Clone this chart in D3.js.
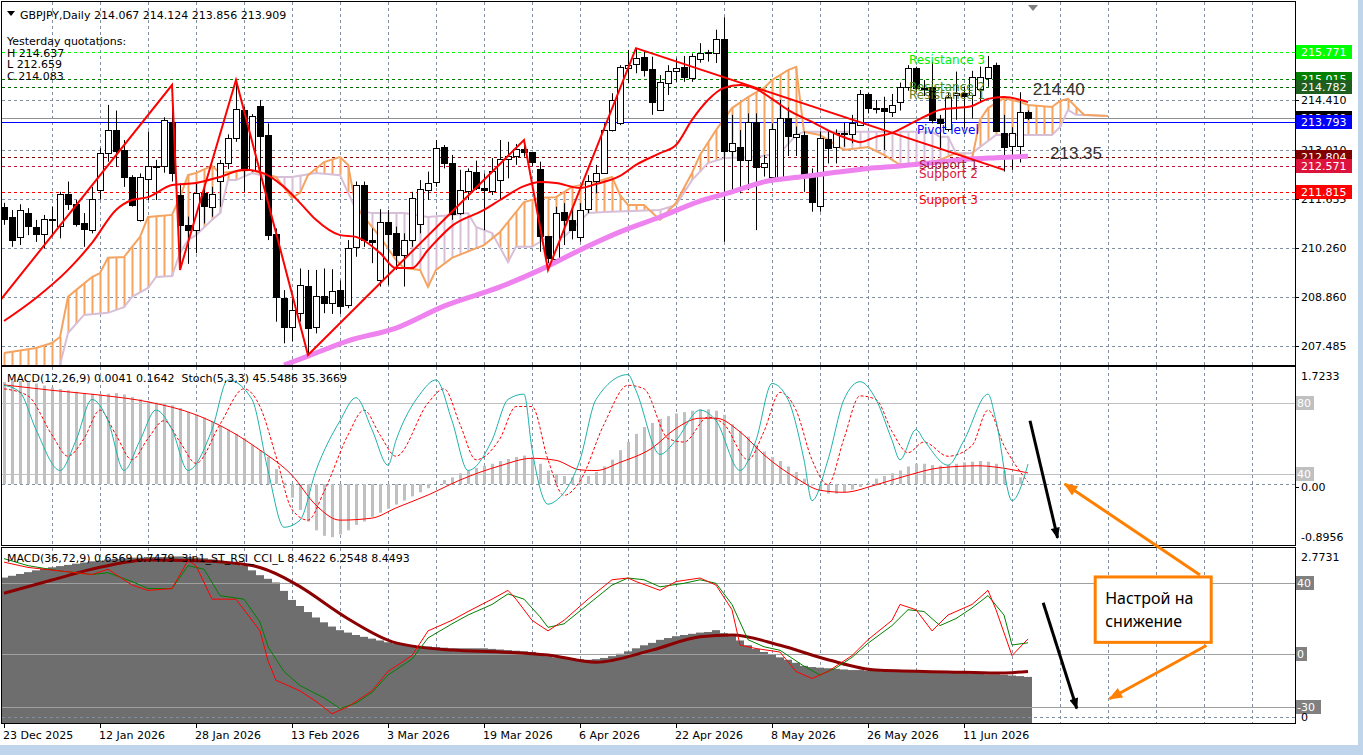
<!DOCTYPE html>
<html>
<head>
<meta charset="utf-8">
<script src="https://cdn.jsdelivr.net/npm/d3@7"></script>
<style>
  body { margin: 0; background: #ffffff; overflow: hidden; }
  svg text { font-family: "DejaVu Sans", Verdana, sans-serif; font-size: 11px; }
</style>
</head>
<body>
<div id="chart"></div>
<script>
// ============
// Values
// ============

var dateLabels = ["23 Dec 2025", "12 Jan 2026", "28 Jan 2026", "13 Feb 2026", "3 Mar 2026", "19 Mar 2026",
  "6 Apr 2026", "22 Apr 2026", "8 May 2026", "26 May 2026", "11 Jun 2026"];
var dateBars = [0, 12, 24, 36, 48, 60, 72, 84, 96, 108, 120];

var openPrices = [
  211.41, 211.13, 210.57, 211.23, 210.85, 210.64, 211.06, 210.87, 211.77, 211.49,
  210.96, 210.75, 211.88, 212.92, 213.57, 213.01, 212.24, 211.04, 212.21, 212.54,
  212.56, 213.81, 211.74, 210.90, 210.77, 211.79, 211.39, 212.12, 212.63, 213.34,
  214.14, 212.45, 214.25, 213.43, 210.64, 208.85, 208.03, 208.42, 209.18, 208.01,
  208.89, 208.71, 209.06, 208.64, 210.28, 212.02, 210.47, 209.35, 210.99, 210.68,
  210.05, 210.47, 210.92, 211.90, 212.09, 213.09, 212.65, 211.24, 211.86, 212.39,
  211.93, 211.86, 212.16, 212.76, 212.82, 213.03, 212.94, 212.47, 210.59, 209.94,
  211.25, 211.04, 210.57, 211.34, 212.14, 212.37, 213.57, 213.76, 215.31, 215.43,
  215.64, 215.29, 214.14, 214.89, 215.22, 215.34, 215.03, 215.57, 215.77, 215.74,
  216.14, 212.99, 213.10, 212.73, 213.81, 212.54, 212.24, 212.24, 213.90, 213.38,
  213.43, 212.26, 211.41, 213.31, 213.09, 213.48, 213.48, 213.71, 214.58, 214.18,
  214.18, 214.09, 214.37, 214.79, 215.32, 214.73, 214.78, 213.88, 213.62, 214.56,
  214.62, 214.56, 214.72, 215.06, 215.40, 213.50, 213.10, 213.12, 214.067];
var highPrices = [
  211.52, 211.32, 211.48, 211.37, 211.04, 211.18, 211.41, 211.83, 212.12, 211.60,
  211.23, 211.97, 213.06, 214.28, 214.12, 213.29, 212.30, 212.35, 213.53, 212.73,
  213.93, 214.84, 212.07, 211.13, 212.07, 211.97, 211.97, 212.73, 213.45, 214.98,
  214.23, 214.02, 214.42, 213.76, 210.80, 209.06, 208.83, 209.67, 209.63, 209.63,
  209.67, 209.65, 209.33, 210.47, 212.12, 212.12, 210.80, 211.34, 211.32, 210.85,
  210.66, 211.83, 212.16, 212.40, 213.29, 213.15, 212.87, 212.45, 212.49, 212.71,
  212.35, 212.78, 213.29, 213.24, 213.18, 213.29, 212.96, 212.68, 210.59, 211.41,
  211.51, 211.32, 211.51, 212.30, 212.59, 213.76, 214.61, 215.40, 215.83, 215.88,
  215.78, 215.64, 215.12, 215.40, 215.59, 215.66, 215.73, 216.02, 215.83, 216.40,
  216.75, 214.00, 213.57, 214.04, 214.04, 212.87, 213.76, 214.42, 214.21, 213.67,
  213.53, 212.49, 213.53, 213.53, 213.59, 213.78, 214.00, 214.70, 214.62, 214.42,
  214.51, 214.59, 214.91, 215.40, 215.36, 214.98, 215.50, 214.00, 214.62, 215.22,
  214.79, 215.24, 215.36, 215.66, 215.47, 214.00, 213.65, 214.637, 214.124];
var lowPrices = [
  210.90, 210.28, 210.33, 210.61, 210.42, 210.24, 210.57, 210.52, 211.32, 210.85,
  210.28, 210.66, 211.62, 212.68, 212.54, 211.97, 211.41, 210.99, 211.60, 211.60,
  212.37, 212.12, 209.63, 209.80, 210.10, 210.94, 211.13, 211.41, 212.47, 213.24,
  211.83, 212.40, 211.60, 210.47, 208.17, 207.56, 207.61, 208.17, 207.23, 207.84,
  208.41, 208.39, 208.39, 208.55, 210.00, 210.28, 209.82, 209.16, 209.20, 209.63,
  209.16, 210.28, 210.66, 211.60, 211.97, 212.49, 211.04, 211.18, 211.60, 211.88,
  210.75, 211.74, 211.60, 212.21, 212.59, 212.82, 212.56, 210.14, 209.63, 209.83,
  210.33, 210.49, 210.42, 211.23, 211.79, 212.35, 213.53, 213.71, 214.89, 215.17,
  215.08, 214.00, 214.12, 214.56, 214.93, 214.93, 214.93, 215.47, 215.50, 215.46,
  210.42, 211.83, 211.79, 211.88, 210.75, 212.26, 212.16, 212.16, 212.84, 212.84,
  211.83, 211.27, 211.27, 212.63, 212.63, 213.10, 213.20, 213.69, 214.04, 214.04,
  213.01, 213.94, 214.12, 214.68, 214.65, 214.53, 213.76, 213.01, 213.53, 213.86,
  213.62, 213.90, 214.37, 214.79, 213.53, 212.40, 212.45, 212.659, 213.856];
var closePrices = [
  211.08, 210.47, 211.32, 210.85, 210.66, 211.06, 211.02, 211.77, 211.49, 210.92,
  210.80, 211.62, 212.92, 213.57, 212.99, 212.24, 211.44, 212.26, 212.57, 212.56,
  213.86, 212.38, 210.90, 210.77, 211.81, 211.41, 211.77, 212.63, 213.34, 214.16,
  212.45, 213.97, 213.41, 210.61, 208.86, 208.03, 208.50, 209.20, 208.01, 208.89,
  208.69, 209.04, 208.62, 210.24, 212.02, 210.47, 210.42, 210.99, 210.66, 210.05,
  210.47, 211.65, 211.90, 212.09, 213.06, 212.65, 211.20, 211.88, 212.42, 211.95,
  211.86, 212.42, 212.75, 212.85, 213.03, 212.94, 212.65, 210.59, 209.96, 211.24,
  211.02, 210.75, 211.32, 212.14, 212.37, 213.57, 214.42, 215.34, 215.40, 215.59,
  215.28, 214.37, 214.92, 215.24, 215.31, 215.06, 215.66, 215.73, 215.78, 216.14,
  212.99, 213.22, 212.73, 213.80, 212.54, 212.64, 213.59, 213.90, 213.38, 213.46,
  212.26, 211.55, 213.34, 213.06, 213.48, 213.46, 213.78, 214.58, 214.18, 214.19,
  214.09, 214.28, 214.79, 215.32, 214.76, 214.76, 213.84, 213.78, 214.51, 214.62,
  214.53, 215.08, 215.06, 215.36, 213.55, 213.10, 213.48, 214.083, 213.909];

var priceTicks = [214.410, 213.010, 211.635, 210.260, 208.860, 207.485];

var levelNames = ["Resistance 3", "Resistance 2", "Resistance 1", "Pivot level", "Support 1", "Support 2", "Support 3"];
var levelValues = [215.771, 215.015, 214.782, 213.793, 212.804, 212.571, 211.815];
var bidPrice = 213.909;

// [bar, price] knots of the indicator lines
var redMa = [[0,208.19],[4,208.84],[8,209.63],[11,210.39],[14,211.32],[16,211.60],[18,211.68],[21,212.02],
  [24,212.08],[27,212.25],[30,212.45],[32,212.39],[35,211.97],[37,211.52],[39,211.04],[42,210.61],[44,210.56],
  [47,210.11],[49,209.68],[51,209.68],[53,210.19],[56,210.87],[60,211.32],[62,211.60],[65,211.99],[67,212.11],
  [69,212.08],[72,211.94],[74,212.05],[77,212.28],[79,212.59],[82,212.92],[84,213.15],[86,213.86],[88,214.42],
  [90,214.76],[92,214.84],[94,214.73],[96,214.45],[98,214.14],[101,213.80],[104,213.46],[106,213.29],[107,213.23],
  [109,213.38],[111,213.49],[113,213.71],[115,213.94],[117,214.14],[119,214.19],[121,214.25],[123,214.45],
  [125,214.50],[128,214.36]];

var violetMa = [[35,206.95],[38,207.20],[43,207.63],[49,207.99],[55,208.61],[62,209.15],[67,209.63],[72,210.19],
  [77,210.70],[82,211.12],[87,211.57],[91,211.83],[95,212.11],[100,212.26],[104,212.38],[108,212.49],[112,212.56],
  [116,212.65],[120,212.74],[124,212.79],[128,212.83]];

var zigzag = [[-1,208.62],[21,214.84],[22,209.63],[29,214.98],[38,207.23],[65,213.29],[68,209.63],[79,215.88],[125,212.45]];

var senkouA = [[0,207.29],[4,207.43],[6,207.57],[7,207.74],[8,208.87],[9,209.06],[11,209.43],[12,209.54],[13,209.97],
  [15,209.99],[16,210.28],[17,210.56],[18,211.12],[21,211.18],[22,211.68],[23,212.30],[24,212.36],[26,212.56],
  [27,212.36],[31,212.45],[32,212.36],[34,212.25],[36,211.66],[37,211.80],[38,212.30],[40,212.67],[42,212.81],
  [43,212.59],[44,211.40],[47,210.56],[49,209.91],[50,209.68],[52,209.63],[53,209.15],[54,209.63],[56,209.97],
  [60,210.33],[62,210.70],[65,211.54],[67,211.66],[69,211.68],[71,211.97],[74,212.11],[76,212.25],[77,211.74],
  [78,211.46],[80,211.46],[82,211.04],[84,211.52],[86,212.36],[87,212.87],[89,213.57],[91,214.19],[93,214.50],
  [95,214.76],[96,214.98],[98,215.26],[99,215.35],[100,213.52],[102,213.43],[105,213.01],[108,213.09],[110,212.87],
  [112,212.59],[114,212.59],[117,212.73],[119,212.92],[121,212.76],[122,213.86],[123,214.19],[125,214.47],
  [127,214.36],[128,214.28],[131,214.22],[132,214.39],[133,214.45],[134,214.22],[135,214.00],[138,213.97]];

var senkouB = [[0,206.25],[6,206.39],[7,206.95],[8,207.85],[10,208.36],[13,208.42],[15,208.58],[16,208.87],[18,209.12],
  [19,209.43],[21,209.46],[22,210.11],[23,210.47],[24,210.61],[26,211.04],[27,211.23],[28,212.16],[29,212.16],
  [31,212.36],[33,212.25],[36,212.25],[39,212.36],[42,212.30],[44,211.32],[46,211.23],[50,211.23],[53,211.12],
  [56,211.18],[58,211.23],[59,210.84],[61,210.67],[63,209.85],[64,210.28],[66,210.28],[68,210.56],[70,210.56],
  [73,211.23],[75,211.26],[82,211.32],[84,211.46],[86,212.16],[88,212.64],[90,212.78],[94,212.81],[97,212.92],
  [99,213.43],[100,213.52],[116,213.52],[117,213.38],[118,213.38],[119,212.92],[121,212.92],[124,213.43],
  [131,213.43],[132,213.66],[133,214.14],[134,214.00],[138,213.97]];

// MACD(12,26,9) main as histogram, one value per bar
var macdMain = [
  1.50, 1.52, 1.52, 1.50, 1.48, 1.45, 1.42, 1.40, 1.38, 1.36,
  1.34, 1.33, 1.32, 1.33, 1.34, 1.32, 1.28, 1.25, 1.22, 1.20,
  1.18, 1.16, 1.12, 1.06, 1.02, 0.98, 0.92, 0.86, 0.80, 0.74,
  0.68, 0.58, 0.50, 0.40, 0.22, 0.02, -0.20, -0.38, -0.55, -0.68,
  -0.76, -0.78, -0.74, -0.68, -0.60, -0.55, -0.48, -0.42, -0.36, -0.30,
  -0.24, -0.18, -0.12, -0.06, 0.00, 0.06, 0.10, 0.16, 0.20, 0.24,
  0.27, 0.30, 0.34, 0.37, 0.40, 0.42, 0.40, 0.30, 0.20, 0.15,
  0.12, 0.10, 0.10, 0.12, 0.18, 0.26, 0.36, 0.50, 0.62, 0.74,
  0.84, 0.90, 0.96, 1.00, 1.04, 1.06, 1.08, 1.10, 1.10, 1.08,
  1.02, 0.88, 0.78, 0.70, 0.58, 0.48, 0.40, 0.34, 0.26, 0.18,
  0.08, -0.02, -0.10, -0.14, -0.14, -0.12, -0.08, -0.04, 0.02, 0.08,
  0.12, 0.16, 0.20, 0.26, 0.30, 0.30, 0.28, 0.27, 0.28, 0.30,
  0.32, 0.33, 0.34, 0.33, 0.30, 0.20, 0.14, 0.10, 0.0041];
var macdSignal = [[0,1.46],[6,1.38],[12,1.31],[18,1.21],[24,1.02],[28,0.80],[32,0.50],[36,0.13],[39,-0.31],
  [42,-0.53],[46,-0.50],[49,-0.35],[53,-0.16],[57,0.06],[62,0.27],[66,0.38],[69,0.35],[72,0.21],[74,0.20],
  [77,0.32],[81,0.53],[84,0.82],[87,0.97],[89,0.97],[92,0.77],[95,0.43],[99,0.09],[102,-0.09],[105,-0.12],
  [109,-0.01],[113,0.13],[117,0.24],[122,0.27],[124,0.25],[128,0.1642]];

var stochMain = [[0,90],[2,86],[4,65],[7,42],[9,59],[11,82],[13,70],[15,42],[17,59],[19,76],[21,65],[23,42],
  [26,65],[28,93],[31,82],[33,42],[35,10],[37,14],[39,42],[42,70],[44,83],[46,65],[48,45],[49,59],[52,85],[54,93],
  [56,70],[58,42],[61,59],[63,82],[65,85],[66,54],[68,23],[69,25],[72,48],[74,82],[78,96],[79,87],[82,51],[84,59],
  [87,76],[89,70],[92,42],[94,59],[96,91],[98,82],[100,48],[101,25],[103,48],[105,82],[107,92],[109,82],[111,59],
  [112,48],[114,65],[115,59],[118,45],[120,59],[123,85],[124,70],[126,25],[128,45.55]];
var stochSignal = [[0,88],[3,84],[6,62],[8,50],[10,60],[12,76],[14,62],[16,48],[18,60],[20,70],[22,58],[24,46],
  [27,68],[30,88],[32,78],[34,50],[36,20],[38,14],[40,30],[43,62],[45,76],[47,62],[49,50],[53,80],[55,88],[57,68],
  [59,48],[62,60],[64,78],[66,78],[68,48],[70,28],[72,36],[75,68],[78,90],[80,88],[83,60],[85,58],[88,72],[90,68],
  [93,48],[95,64],[97,86],[99,76],[101,48],[103,34],[105,60],[107,84],[109,82],[111,64],[113,52],[115,58],
  [118,50],[121,56],[123,76],[125,56],[128,35.37]];

// MACD(36,72,9) main as histogram, one value per bar
var macdSlow = [
  2.30, 2.33, 2.36, 2.39, 2.42, 2.45, 2.47, 2.49, 2.51, 2.53,
  2.55, 2.57, 2.58, 2.60, 2.61, 2.62, 2.63, 2.63, 2.64, 2.64,
  2.64, 2.65, 2.65, 2.64, 2.63, 2.62, 2.60, 2.58, 2.55, 2.53,
  2.50, 2.42, 2.34, 2.28, 2.22, 2.08, 1.93, 1.83, 1.73, 1.64,
  1.56, 1.49, 1.43, 1.39, 1.35, 1.32, 1.29, 1.26, 1.23, 1.21,
  1.19, 1.18, 1.17, 1.16, 1.15, 1.14, 1.13, 1.13, 1.13, 1.13,
  1.13, 1.12, 1.11, 1.10, 1.09, 1.08, 1.07, 1.04, 1.00, 0.98,
  0.97, 0.96, 0.95, 0.94, 0.95, 0.97, 1.00, 1.04, 1.08, 1.13,
  1.18, 1.22, 1.27, 1.30, 1.33, 1.35, 1.37, 1.39, 1.40, 1.43,
  1.38, 1.33, 1.26, 1.18, 1.12, 1.07, 1.02, 0.98, 0.94, 0.89,
  0.84, 0.82, 0.81, 0.80, 0.79, 0.78, 0.77, 0.77, 0.76, 0.76,
  0.75, 0.75, 0.75, 0.74, 0.74, 0.74, 0.73, 0.73, 0.72, 0.72,
  0.72, 0.71, 0.71, 0.70, 0.70, 0.69, 0.68, 0.67, 0.6569];
var macdSlowSignal = [[0,2.04],[6,2.26],[12,2.47],[18,2.59],[24,2.58],[31,2.50],[35,2.30],[37,2.15],[43,1.62],[49,1.22],
  [56,1.10],[62,1.07],[68,1.02],[74,0.90],[81,1.10],[87,1.32],[91,1.35],[97,1.18],[103,0.94],[109,0.77],
  [118,0.74],[124,0.72],[128,0.7479]];

var st3Red = [[0,52],[3,49],[7,47],[11,45],[13,48],[16,39],[18,36],[21,37],[23,53],[24,50],[26,31],[29,31],
  [32,13],[33,-4],[34,-15],[37,-21],[39,-27],[41,-34],[43,-30],[46,-21],[48,-10],[51,-1],[53,13],[56,19],[58,24],
  [61,31],[63,36],[64,31],[66,19],[68,13],[70,19],[73,31],[76,42],[78,43],[79,41],[82,36],[84,41],[87,43],[89,39],
  [91,25],[92,5],[94,3],[97,1],[99,-10],[101,-14],[103,-10],[106,-1],[108,8],[111,19],[112,28],[114,25],[116,13],
  [118,22],[121,28],[123,36],[124,25],[126,-1],[128,8.46]];
var st3Green = [[0,54],[3,50],[7,47],[11,45],[13,46],[16,41],[18,37],[21,37],[23,50],[25,48],[27,33],[30,31],
  [32,18],[33,4],[35,-10],[37,-18],[40,-25],[42,-31],[44,-28],[46,-22],[48,-12],[51,-3],[53,9],[56,17],[58,22],
  [61,28],[63,34],[65,31],[67,21],[68,15],[70,17],[73,28],[76,39],[78,43],[80,42],[82,38],[85,40],[87,42],[89,40],
  [91,28],[93,8],[95,4],[97,2],[100,-7],[102,-12],[104,-8],[106,-2],[108,6],[111,16],[113,25],[115,24],[117,16],
  [119,20],[121,26],[123,33],[125,22],[126,5],[128,6.25]];

// ============
// Layout
// ============
var W = 1363, H = 755;
var plotL = 2, plotR = 1295;
var pMain = {top: 2, bottom: 365};
var pOsc = {top: 367, bottom: 545};
var pLow = {top: 548, bottom: 723};

var x = d3.scaleLinear().domain([0, 128]).range([4, 1028]);
var yPrice = d3.scaleLinear().domain([207.485, 215.771]).range([346, 52]);
var yMacd = d3.scaleLinear().domain([-0.8956, 1.7233]).range([545, 367]);
var yStoch = d3.scaleLinear().domain([0, 100]).range([545, 367.5]);
var yMacdSlow = d3.scaleLinear().domain([0, 2.7731]).range([716.6, 549]);
var y3in1 = d3.scaleLinear().domain([-30, 40]).range([706.7, 583.3]);

var svg = d3.select("#chart").append("svg")
  .attr("width", W)
  .attr("height", H);

svg.append("rect").attr("width", W).attr("height", H).attr("fill", "#ffffff");
svg.append("rect").attr("x", 0).attr("y", 745).attr("width", W).attr("height", 10).attr("fill", "#bfd5ec");
svg.append("rect").attr("x", 1358).attr("y", 0).attr("width", 5).attr("height", 745).attr("fill", "#bfd5ec");

var defs = svg.append("defs");
function addClip(id, p) {
  defs.append("clipPath").attr("id", id)
    .append("rect")
    .attr("x", plotL).attr("y", p.top)
    .attr("width", plotR - plotL).attr("height", p.bottom - p.top);
}
addClip("clipMain", pMain);
addClip("clipOsc", pOsc);
addClip("clipLow", pLow);

function arrowMarker(id, color, w, h) {
  defs.append("marker").attr("id", id)
    .attr("viewBox", "0 0 10 8")
    .attr("refX", 9).attr("refY", 4)
    .attr("markerUnits", "userSpaceOnUse")
    .attr("markerWidth", w).attr("markerHeight", h)
    .attr("orient", "auto")
    .append("path").attr("d", "M0,0 L10,4 L0,8 Z").attr("fill", color);
}
arrowMarker("headBlack", "#000000", 16, 9);
arrowMarker("headOrange", "#ff8000", 18, 11);

var gMain = svg.append("g").attr("clip-path", "url(#clipMain)");
var gOsc = svg.append("g").attr("clip-path", "url(#clipOsc)");
var gLow = svg.append("g").attr("clip-path", "url(#clipLow)");

// vertical grid in every panel
var gridBars = d3.range(6, 160, 6).filter(function(b) { return x(b) < plotR; });
[[gMain, pMain], [gOsc, pOsc], [gLow, pLow]].forEach(function(pair) {
  pair[0].selectAll("line.vgrid").data(gridBars).enter().append("line")
    .attr("x1", function(b) { return x(b) + 0.5; })
    .attr("x2", function(b) { return x(b) + 0.5; })
    .attr("y1", pair[1].top).attr("y2", pair[1].bottom)
    .attr("stroke", "#8090a0").attr("stroke-dasharray", "3,3");
});

// ============
// Main price panel
// ============
gMain.selectAll("line.hgrid").data(priceTicks).enter().append("line")
  .attr("x1", plotL).attr("x2", plotR)
  .attr("y1", function(d) { return Math.round(yPrice(d)) + 0.5; })
  .attr("y2", function(d) { return Math.round(yPrice(d)) + 0.5; })
  .attr("stroke", "#8090a0").attr("stroke-dasharray", "3,3");

var levelLineColors = ["#00ff00", "#008000", "#006400", "#0000ff", "#800000", "#c0143c", "#ff0000"];
var levelTextColors = ["#00ee00", "#3c8c28", "#667a1e", "#0000ff", "#a02038", "#dc143c", "#ff0000"];

// bid line
gMain.append("line")
  .attr("x1", plotL).attr("x2", plotR)
  .attr("y1", Math.round(yPrice(bidPrice)) + 0.5).attr("y2", Math.round(yPrice(bidPrice)) + 0.5)
  .attr("stroke", "#909090");

gMain.selectAll("line.level").data(levelValues).enter().append("line")
  .attr("x1", plotL).attr("x2", plotR)
  .attr("y1", function(d) { return Math.round(yPrice(d)) + 0.5; })
  .attr("y2", function(d) { return Math.round(yPrice(d)) + 0.5; })
  .attr("stroke", function(d, i) { return levelLineColors[i]; })
  .attr("stroke-dasharray", function(d, i) { return i === 3 ? null : "3,3"; });

// Ichimoku cloud: hatch at each bar, then the two edges
var cloudA = d3.scaleLinear().domain(senkouA.map(function(d) { return d[0]; })).range(senkouA.map(function(d) { return d[1]; })).clamp(true);
var cloudB = d3.scaleLinear().domain(senkouB.map(function(d) { return d[0]; })).range(senkouB.map(function(d) { return d[1]; })).clamp(true);
var cloudBars = d3.range(0, 139);

gMain.selectAll("line.hatch").data(cloudBars).enter().append("line")
  .attr("x1", function(b) { return x(b) + 0.5; })
  .attr("x2", function(b) { return x(b) + 0.5; })
  .attr("y1", function(b) { return yPrice(cloudA(b)); })
  .attr("y2", function(b) { return yPrice(cloudB(b)); })
  .attr("stroke", function(b) { return cloudA(b) >= cloudB(b) ? "#f4a460" : "#d8bfd8"; })
  .attr("stroke-width", 2);

var knotLine = d3.line().x(function(d) { return x(d[0]); }).y(function(d) { return yPrice(d[1]); });

gMain.append("path").attr("d", knotLine(senkouB))
  .attr("fill", "none").attr("stroke", "#d8bfd8").attr("stroke-width", 2);
gMain.append("path").attr("d", knotLine(senkouA))
  .attr("fill", "none").attr("stroke", "#f4a460").attr("stroke-width", 2);

// candles
var bars = d3.range(openPrices.length).map(function(i) {
  return {i: i, o: openPrices[i], h: highPrices[i], l: lowPrices[i], c: closePrices[i]};
});
var candle = gMain.selectAll("g.candle").data(bars).enter().append("g");
candle.append("line")
  .attr("x1", function(d) { return x(d.i) + 0.5; })
  .attr("x2", function(d) { return x(d.i) + 0.5; })
  .attr("y1", function(d) { return yPrice(d.h); })
  .attr("y2", function(d) { return yPrice(d.l); })
  .attr("stroke", "#000000");
candle.append("rect")
  .attr("x", function(d) { return x(d.i) - 2.5; })
  .attr("width", 6)
  .attr("y", function(d) { return Math.round(yPrice(Math.max(d.o, d.c))) + 0.5; })
  .attr("height", function(d) { return Math.max(1, Math.round(Math.abs(yPrice(d.o) - yPrice(d.c)))); })
  .attr("fill", function(d) { return d.c >= d.o ? "#ffffff" : "#000000"; })
  .attr("stroke", "#000000");

var smoothLine = d3.line().curve(d3.curveMonotoneX)
  .x(function(d) { return x(d[0]); }).y(function(d) { return yPrice(d[1]); });

gMain.append("path").attr("d", smoothLine(violetMa))
  .attr("fill", "none").attr("stroke", "#ee82ee").attr("stroke-width", 5);
gMain.append("path").attr("d", smoothLine(redMa))
  .attr("fill", "none").attr("stroke", "#ff0000").attr("stroke-width", 2);
gMain.append("path").attr("d", knotLine(zigzag))
  .attr("fill", "none").attr("stroke", "#ff0000").attr("stroke-width", 2);

// level captions
var levelTextX = [909, 909, 909, 917, 919, 919, 919];
gMain.selectAll("text.level").data(levelValues).enter().append("text")
  .attr("x", function(d, i) { return levelTextX[i]; })
  .attr("y", function(d) { return yPrice(d) + 12; })
  .attr("fill", function(d, i) { return levelTextColors[i]; })
  .style("font-size", "12px")
  .text(function(d, i) { return levelNames[i]; });

// hand-written notes on the price panel
gMain.append("text").attr("x", x(128.6)).attr("y", yPrice(214.56))
  .style("font-family", "'Liberation Sans', Arial, sans-serif").style("font-size", "17px")
  .attr("fill", "#333333").text("214.40");
gMain.append("text").attr("x", x(130.75)).attr("y", yPrice(212.755))
  .style("font-family", "'Liberation Sans', Arial, sans-serif").style("font-size", "17px")
  .attr("fill", "#333333").text("213.35");

// header
svg.append("path").attr("d", "M7,11 L15,11 L11,16 Z").attr("fill", "#000000");
svg.append("text").attr("x", 20).attr("y", 19)
  .text("GBPJPY,Daily 214.067 214.124 213.856 213.909");
var yesterday = ["Yesterday quotations:", "H 214.637", "L 212.659", "C 214.083"];
svg.selectAll("text.yq").data(yesterday).enter().append("text")
  .attr("x", 7)
  .attr("y", function(d, i) { return 45 + i * 11.5; })
  .text(function(d) { return d; });
svg.append("path").attr("d", "M1028,5 L1038,5 L1033,11 Z").attr("fill", "#808080");

// ============
// MACD(12,26,9) + Stoch(5,3,3)
// ============
gOsc.append("line")
  .attr("x1", plotL).attr("x2", plotR)
  .attr("y1", Math.round(yMacd(0)) + 0.5).attr("y2", Math.round(yMacd(0)) + 0.5)
  .attr("stroke", "#8090a0").attr("stroke-dasharray", "3,3");

gOsc.selectAll("rect.macd").data(macdMain).enter().append("rect")
  .attr("x", function(d, i) { return x(i) - 1; })
  .attr("width", 3)
  .attr("y", function(d) { return Math.min(yMacd(d), yMacd(0)); })
  .attr("height", function(d) { return Math.abs(yMacd(d) - yMacd(0)); })
  .attr("fill", "#c0c0c0");

[80, 40].forEach(function(v) {
  gOsc.append("line")
    .attr("x1", plotL).attr("x2", plotR)
    .attr("y1", Math.round(yStoch(v)) + 0.5).attr("y2", Math.round(yStoch(v)) + 0.5)
    .attr("stroke", "#c0c0c0");
});

var macdSignalLine = d3.line().curve(d3.curveMonotoneX)
  .x(function(d) { return x(d[0]); }).y(function(d) { return yMacd(d[1]); });
gOsc.append("path").attr("d", macdSignalLine(macdSignal))
  .attr("fill", "none").attr("stroke", "#ff0000");

var stochLine = d3.line().curve(d3.curveMonotoneX)
  .x(function(d) { return x(d[0]); }).y(function(d) { return yStoch(d[1]); });
gOsc.append("path").attr("d", stochLine(stochSignal))
  .attr("fill", "none").attr("stroke", "#ff0000").attr("stroke-dasharray", "3,2");
gOsc.append("path").attr("d", stochLine(stochMain))
  .attr("fill", "none").attr("stroke", "#20b2aa");

svg.append("text").attr("x", 7).attr("y", 382).style("white-space", "pre")
  .text("MACD(12,26,9) 0.0041 0.1642  Stoch(5,3,3) 45.5486 35.3669");

// ============
// MACD(36,72,9) + 3in1_ST_RSI_CCI_L
// ============
gLow.selectAll("rect.macd2").data(macdSlow).enter().append("rect")
  .attr("x", function(d, i) { return x(i) - 4; })
  .attr("width", 8)
  .attr("y", function(d) { return yMacdSlow(d); })
  .attr("height", function(d) { return yMacdSlow(0) - yMacdSlow(d) + 8; })
  .attr("fill", "#6e6e6e");

gLow.append("line")
  .attr("x1", plotL).attr("x2", plotR)
  .attr("y1", Math.round(yMacdSlow(0)) + 0.5).attr("y2", Math.round(yMacdSlow(0)) + 0.5)
  .attr("stroke", "#8090a0").attr("stroke-dasharray", "3,3");

[40, 0, -30].forEach(function(v) {
  gLow.append("line")
    .attr("x1", plotL).attr("x2", plotR)
    .attr("y1", Math.round(y3in1(v)) + 0.5).attr("y2", Math.round(y3in1(v)) + 0.5)
    .attr("stroke", "#a0a0a0");
});

var slowSignalLine = d3.line().curve(d3.curveMonotoneX)
  .x(function(d) { return x(d[0]); }).y(function(d) { return yMacdSlow(d[1]); });
gLow.append("path").attr("d", slowSignalLine(macdSlowSignal))
  .attr("fill", "none").attr("stroke", "#8b0000").attr("stroke-width", 3);

var st3Line = d3.line().x(function(d) { return x(d[0]); }).y(function(d) { return y3in1(d[1]); });
gLow.append("path").attr("d", st3Line(st3Green))
  .attr("fill", "none").attr("stroke", "#008000");
gLow.append("path").attr("d", st3Line(st3Red))
  .attr("fill", "none").attr("stroke", "#ff0000");

svg.append("text").attr("x", 7).attr("y", 562).style("white-space", "pre")
  .text("MACD(36,72,9) 0.6569 0.7479  3in1_ST_RSI_CCI_L 8.4622 6.2548 8.4493");

// ============
// Frames and right scale
// ============
[pMain, pOsc, pLow].forEach(function(p) {
  svg.append("rect")
    .attr("x", plotL - 0.5).attr("y", p.top - 0.5)
    .attr("width", plotR - plotL + 1).attr("height", p.bottom - p.top + 1)
    .attr("fill", "none").attr("stroke", "#000000");
});

function plainLabel(yPos, txt) {
  svg.append("line").attr("x1", plotR).attr("x2", plotR + 4)
    .attr("y1", Math.round(yPos) + 0.5).attr("y2", Math.round(yPos) + 0.5).attr("stroke", "#000000");
  svg.append("text").attr("x", 1301).attr("y", yPos + 4).text(txt);
}
function boxLabel(yPos, txt, bg, fg) {
  svg.append("rect").attr("x", plotR + 1).attr("y", Math.round(yPos) - 7)
    .attr("width", 56).attr("height", 14).attr("fill", bg);
  svg.append("text").attr("x", 1301).attr("y", yPos + 4).attr("fill", fg || "#ffffff").text(txt);
}

priceTicks.forEach(function(v) { plainLabel(yPrice(v), v.toFixed(3)); });
boxLabel(yPrice(levelValues[1]), levelValues[1].toFixed(3), "#008000");
boxLabel(yPrice(levelValues[2]), levelValues[2].toFixed(3), "#1e5e1e");
boxLabel(yPrice(bidPrice), bidPrice.toFixed(3), "#000000");
boxLabel(yPrice(levelValues[3]), levelValues[3].toFixed(3), "#0000ff");
boxLabel(yPrice(levelValues[4]), levelValues[4].toFixed(3), "#800000");
boxLabel(yPrice(levelValues[5]), levelValues[5].toFixed(3), "#dc143c");
boxLabel(yPrice(levelValues[6]), levelValues[6].toFixed(3), "#ff0000");
boxLabel(yPrice(levelValues[0]), levelValues[0].toFixed(3), "#00ff00");

// oscillator scale
svg.append("text").attr("x", 1301).attr("y", 380).text("1.7233");
function levelTag(yPos, txt, bg) {
  svg.append("rect").attr("x", plotR + 1).attr("y", Math.round(yPos) - 7)
    .attr("width", txt.length * 7 + 4).attr("height", 14).attr("fill", bg);
  svg.append("text").attr("x", plotR + 2).attr("y", yPos + 4).attr("fill", "#ffffff").text(txt);
}
levelTag(yStoch(80), "80", "#c0c0c0");
levelTag(yStoch(40), "40", "#c0c0c0");
plainLabel(yMacd(0) + 3, "0.00");
svg.append("text").attr("x", 1301).attr("y", 541).text("-0.8956");

svg.append("text").attr("x", 1301).attr("y", 561).text("2.7731");
levelTag(y3in1(40), "40", "#808080");
levelTag(y3in1(0), "0", "#808080");
levelTag(y3in1(-30), "-30", "#808080");
svg.append("text").attr("x", 1301).attr("y", 721).text("0");

// time axis
svg.selectAll("line.xtick").data(dateBars).enter().append("line")
  .attr("x1", function(b) { return x(b) + 0.5; })
  .attr("x2", function(b) { return x(b) + 0.5; })
  .attr("y1", pLow.bottom).attr("y2", pLow.bottom + 5)
  .attr("stroke", "#000000");
svg.selectAll("text.xlab").data(dateBars).enter().append("text")
  .attr("x", function(b) { return x(b) - 1; })
  .attr("y", 739)
  .text(function(b, i) { return dateLabels[i]; });

// ============
// Drawn notes: arrows and the comment box
// ============
function arrow(x1, y1, x2, y2, color, head) {
  svg.append("line")
    .attr("x1", x1).attr("y1", y1).attr("x2", x2).attr("y2", y2)
    .attr("stroke", color).attr("stroke-width", 3)
    .attr("marker-end", "url(#" + head + ")");
}
arrow(x(128.25), yStoch(70), x(131.7), yStoch(4), "#000000", "headBlack");
arrow(x(129.9), y3in1(29), x(134.1), y3in1(-31), "#000000", "headBlack");
arrow(x(149.5), y3in1(44.7), x(132.6), yStoch(34.4), "#ff8000", "headOrange");
arrow(x(150.3), y3in1(4.7), x(138.2), y3in1(-25.5), "#ff8000", "headOrange");

svg.append("rect")
  .attr("x", x(136.4)).attr("y", y3in1(43.6))
  .attr("width", x(150.9) - x(136.4)).attr("height", y3in1(6.5) - y3in1(43.6))
  .attr("fill", "#ffffff").attr("stroke", "#ff8000").attr("stroke-width", 3);
svg.append("text").attr("x", x(136.4) + 10).attr("y", y3in1(43.6) + 27)
  .style("font-family", "'Noto Sans', 'DejaVu Sans', sans-serif").style("font-size", "16px")
  .text("Настрой на");
svg.append("text").attr("x", x(136.4) + 10).attr("y", y3in1(43.6) + 50)
  .style("font-family", "'Noto Sans', 'DejaVu Sans', sans-serif").style("font-size", "16px")
  .text("снижение");
</script>
</body>
</html>
